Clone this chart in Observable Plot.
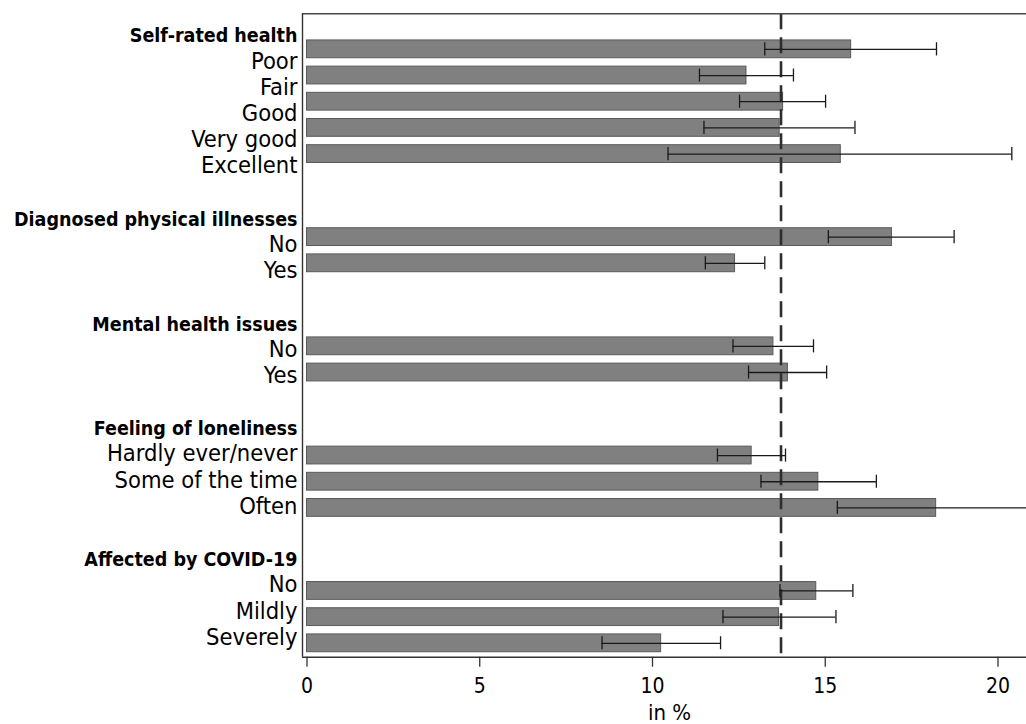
<!DOCTYPE html>
<html>
<head>
<meta charset="utf-8">
<script src="https://cdn.jsdelivr.net/npm/d3@7"></script>
<script src="https://cdn.jsdelivr.net/npm/@observablehq/plot@0.6"></script>
<style>
  html, body { margin: 0; padding: 0; background: #fff; overflow: hidden; }
  #chart svg text { font-stretch: condensed; }
</style>
</head>
<body>
<div id="chart"></div>
<script>
// ---- data ----
const groups = ["Self-rated health", "Diagnosed physical illnesses", "Mental health issues", "Feeling of loneliness", "Affected by COVID-19"];
const categories = ["Poor", "Fair", "Good", "Very good", "Excellent", "No", "Yes", "No", "Yes", "Hardly ever/never", "Some of the time", "Often", "No", "Mildly", "Severely"];
const groupOf = [0, 0, 0, 0, 0, 1, 1, 2, 2, 3, 3, 3, 4, 4, 4];
const values = [15.75, 12.72, 13.78, 13.68, 15.45, 16.93, 12.39, 13.50, 13.92, 12.87, 14.80, 18.21, 14.74, 13.66, 10.25];
const ciLow  = [13.25, 11.36, 12.52, 11.49, 10.45, 15.09, 11.53, 12.33, 12.78, 11.88, 13.14, 15.35, 13.69, 12.04, 8.54];
const ciHigh = [18.22, 14.08, 15.01, 15.86, 20.40, 18.73, 13.25, 14.66, 15.04, 13.85, 16.48, 21.20, 15.80, 15.31, 11.97];
const overall = 13.72;
const xTicks = [0, 5, 10, 15, 20];
const xLabel = "in %";

// ---- layout helpers ----
const BAR_GROUP_GAP = 3.17;   // bar rows between groups
const LABEL_SHIFT = -0.2636;  // label baseline offset (rows) relative to the bar grid
const rows = [];
const headers = [];
let b = 0, k = 1;
categories.forEach((c, i) => {
  if (i > 0) {
    if (groupOf[i] !== groupOf[i - 1]) { b += BAR_GROUP_GAP; k += 3; }
    else { b += 1; k += 1; }
  }
  if (i === 0 || groupOf[i] !== groupOf[i - 1]) {
    headers.push({ label: groups[groupOf[i]], yl: (k - 1) + LABEL_SHIFT });
  }
  rows.push({ label: c, value: values[i], lo: ciLow[i], hi: ciHigh[i], y: b, yl: k + LABEL_SHIFT });
});

const xDomain = [-0.13, 20.825];
const yDomain = [-1.357, 23.21];
const half = 0.34, cap = 0.25;

const font = "'DejaVu Sans Condensed', 'DejaVu Sans', sans-serif";

const chart = Plot.plot({
  width: 1026,
  height: 724,
  marginLeft: 302,
  marginRight: 0,
  marginTop: 13.3,
  marginBottom: 67.3,
  style: { fontFamily: font, background: "#fff", color: "#000", overflow: "hidden" },
  x: { domain: xDomain },
  y: { domain: yDomain, range: [13.3, 656.7], axis: null },
  marks: [
    Plot.rect(rows, {
      x1: 0, x2: "value",
      y1: d => d.y - half, y2: d => d.y + half,
      fill: "#808080", stroke: "#5a5a5a", strokeWidth: 1
    }),
    Plot.ruleX([overall], { stroke: "#2e2e2e", strokeWidth: 2.6, strokeDasharray: "16,8" }),
    Plot.ruleY(rows, { y: "y", x1: "lo", x2: "hi", stroke: "#1a1a1a", strokeWidth: 1.3, clip: true }),
    Plot.ruleX(rows, { x: "lo", y1: d => d.y - cap, y2: d => d.y + cap, stroke: "#1a1a1a", strokeWidth: 1.3, clip: true }),
    Plot.ruleX(rows, { x: "hi", y1: d => d.y - cap, y2: d => d.y + cap, stroke: "#1a1a1a", strokeWidth: 1.3, clip: true }),
    // frame: top, bottom, left
    Plot.ruleY([yDomain[0]], { stroke: "#4a4a4a", strokeWidth: 1.4 }),
    Plot.ruleY([yDomain[1]], { stroke: "#333", strokeWidth: 1.4 }),
    Plot.ruleX([xDomain[0]], { stroke: "#333", strokeWidth: 1.4 }),
    Plot.axisX({ ticks: xTicks, tickSize: 10, tickPadding: 11, fontSize: 21, label: null, stroke: "#333", strokeWidth: 1.3, fill: "#000" }),
    Plot.text([xLabel], { text: d => d, frameAnchor: "bottom", dx: 5, dy: 62.8, lineAnchor: "bottom", fontSize: 22, fill: "#000" }),
    // category labels
    Plot.text(rows, { frameAnchor: "left", y: "yl", text: "label", textAnchor: "end", lineAnchor: "bottom", dx: -5, fontSize: 23.5, fill: "#000" }),
    // group headers
    Plot.text(headers, { frameAnchor: "left", y: "yl", text: "label", textAnchor: "end", lineAnchor: "bottom", dx: -5, fontSize: 19.5, fontWeight: "bold", fill: "#000" })
  ]
});
document.getElementById("chart").appendChild(chart);
</script>
</body>
</html>
